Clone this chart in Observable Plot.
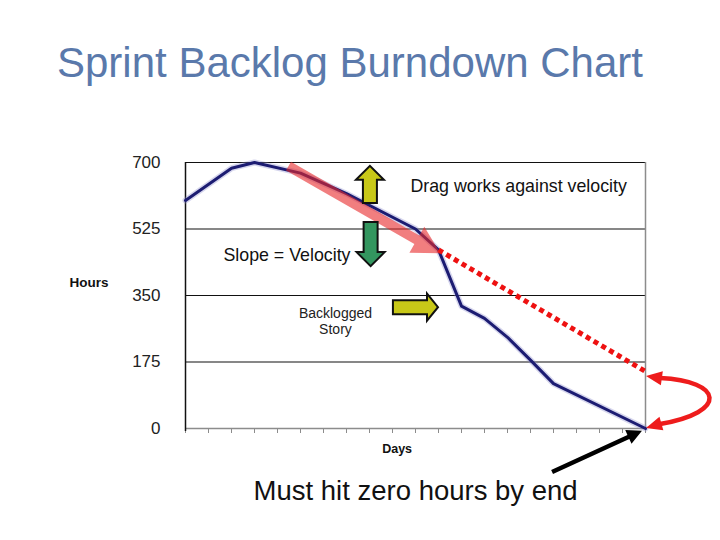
<!DOCTYPE html>
<html><head><meta charset="utf-8">
<script src="https://cdn.jsdelivr.net/npm/d3@7"></script>
<script src="https://cdn.jsdelivr.net/npm/@observablehq/plot@0.6"></script>
<style>
body{margin:0;background:#fff;font-family:"Liberation Sans",Arial,sans-serif;}
#wrap{position:relative;width:720px;height:540px;overflow:hidden;}
#title{position:absolute;left:57px;top:42px;font-size:42px;line-height:42px;color:#5a79ab;white-space:nowrap;}
#chart{position:absolute;left:0;top:0;}
</style></head><body>
<div id="wrap"><div id="chart"></div><div id="title">Sprint Backlog Burndown Chart</div></div>
<script>
// ---- data ----
const days  = [0, 2, 3, 5, 7, 10, 11, 12, 13, 14, 15, 16, 20];
const hours = [600, 685, 700, 672, 618, 525, 470, 322, 290, 240, 180, 118, 0];
const projDays  = [11, 20];
const projHours = [470, 150];
const yTicks = [0, 175, 350, 525, 700];
const xTicks = [0,1,2,3,4,5,6,7,8,9,10,11,12,13,14,15,16,17,18,19,20];

const burn = days.map((d, i) => ({day: d, hours: hours[i]}));
const proj = projDays.map((d, i) => ({day: d, hours: projHours[i]}));

// ---- helper: block arrow polygon drawn through the plot scales ----
function arrowPath(x1, y1, x2, y2, sw, hw, hl) {
  const dx = x2 - x1, dy = y2 - y1, L = Math.hypot(dx, dy);
  const ux = dx / L, uy = dy / L, nx = -uy, ny = ux;
  const neckX = x2 - ux * hl, neckY = y2 - uy * hl;
  const p = [
    [x1 + nx * sw / 2, y1 + ny * sw / 2],
    [neckX + nx * sw / 2, neckY + ny * sw / 2],
    [neckX + nx * hw / 2, neckY + ny * hw / 2],
    [x2, y2],
    [neckX - nx * hw / 2, neckY - ny * hw / 2],
    [neckX - nx * sw / 2, neckY - ny * sw / 2],
    [x1 - nx * sw / 2, y1 - ny * sw / 2]
  ];
  return "M" + p.map(q => q.join(",")).join("L") + "Z";
}
function blockArrows(specs) {
  return (index, scales) => {
    const g = d3.create("svg:g");
    for (const s of specs) {
      g.append("path")
        .attr("d", arrowPath(scales.x(s.x1), scales.y(s.y1), scales.x(s.x2), scales.y(s.y2), s.sw, s.hw, s.hl))
        .attr("fill", s.fill)
        .attr("fill-opacity", s.opacity ?? 1)
        .attr("stroke", s.stroke ?? "none")
        .attr("stroke-width", s.strokeWidth ?? 0)
        .attr("stroke-linejoin", "miter");
    }
    return g.node();
  };
}
function headPath(tx, ty, fx, fy, hw, hl) {
  const dx = tx - fx, dy = ty - fy, L = Math.hypot(dx, dy);
  const ux = dx / L, uy = dy / L, nx = -uy, ny = ux;
  const bx = tx - ux * hl, by = ty - uy * hl;
  return `M${tx},${ty}L${bx + nx * hw / 2},${by + ny * hw / 2}L${bx - nx * hw / 2},${by - ny * hw / 2}Z`;
}
// curved double-headed arrow between the projected end and the real end
function curvedArrow(day, fromHours, toHours) {
  return (index, scales) => {
    const sx = scales.x(day) + 1, sy = scales.y(fromHours) + 5;
    const ex = scales.x(day) + 1, ey = scales.y(toHours);
    const g = d3.create("svg:g");
    const p0 = [sx + 14, sy + 2], p3 = [ex + 14, ey - 4];
    g.append("path")
      .attr("d", `M${p0}C${sx + 77},${sy + 5} ${ex + 83},${ey - 16} ${p3}`)
      .attr("fill", "none").attr("stroke", "#ee1c1c").attr("stroke-width", 4.5);
    g.append("path").attr("d", headPath(sx, sy, p0[0], p0[1], 14, 16)).attr("fill", "#ee1c1c");
    g.append("path").attr("d", headPath(ex, ey, p3[0], p3[1], 14, 16)).attr("fill", "#ee1c1c");
    return g.node();
  };
}

const font = `"Liberation Sans", Arial, sans-serif`;

const chart = Plot.plot({
  width: 720, height: 540,
  marginLeft: 185, marginRight: 75, marginTop: 162, marginBottom: 112,
  x: {domain: [0, 20], axis: null},
  y: {domain: [0, 700], axis: null},
  style: {fontFamily: font, background: "transparent", overflow: "visible", color: "#222"},
  marks: [
    Plot.ruleY(yTicks.filter(d => d > 0), {stroke: "#111", strokeWidth: 1.2}),
    Plot.ruleX([20], {stroke: "#8c8c8c", strokeWidth: 1.5}),
    Plot.axisX({ticks: xTicks, tickSize: 5, tickFormat: () => "", stroke: "#8c8c8c", label: null}),
    Plot.ruleY([0], {stroke: "#8c8c8c", strokeWidth: 1.5}),
    Plot.ruleX([0], {y1: -8, y2: 700, stroke: "#111", strokeWidth: 1.5}),
    Plot.axisY({ticks: yTicks, tickSize: 0, tickPadding: 25, fontSize: 17, fill: "#222", label: null}),
    // burndown line with a soft halo
    Plot.line(burn, {x: "day", y: "hours", stroke: "#8a8acc", strokeWidth: 6, strokeOpacity: 0.35}),
    Plot.line(burn, {x: "day", y: "hours", stroke: "#1c1c72", strokeWidth: 3}),
    // projected (dragged) line
    Plot.line(proj, {x: "day", y: "hours", stroke: "#ee1111", strokeWidth: 5, strokeDasharray: "5,4", strokeLinecap: "butt"}),
    // annotations
    blockArrows([
      {x1: 4.5, y1: 689, x2: 11.1, y2: 460, sw: 10, hw: 30, hl: 27, fill: "#e8282a", opacity: 0.6},
      {x1: 8.04, y1: 592, x2: 8.04, y2: 690, sw: 14, hw: 28, hl: 14, fill: "#c8c818", stroke: "#111", strokeWidth: 2},
      {x1: 8.07, y1: 542, x2: 8.07, y2: 426, sw: 14, hw: 28, hl: 14, fill: "#33965f", stroke: "#111", strokeWidth: 2},
      {x1: 9.04, y1: 318, x2: 11.0, y2: 318, sw: 14, hw: 27, hl: 11, fill: "#c8c818", stroke: "#111", strokeWidth: 2},
      {x1: 15.96, y1: -116, x2: 19.87, y2: -7, sw: 4.5, hw: 15, hl: 15, fill: "#000"}
    ]),
    curvedArrow(20, 150, 0),
    Plot.text(["Drag works against velocity"], {x: 9.78, y: 638, textAnchor: "start", fontSize: 17.8, fill: "#111"}),
    Plot.text(["Slope = Velocity"], {x: 1.65, y: 455, textAnchor: "start", fontSize: 17.8, fill: "#111"}),
    Plot.text(["Backlogged\nStory"], {x: 6.52, y: 284, fontSize: 14, lineHeight: 1.15, fill: "#222"}),
    Plot.text(["Days"], {x: 9.2, y: -55, fontSize: 12.5, fontWeight: "bold", fill: "#111"}),
    Plot.text(["Hours"], {x: -4.2, y: 384, fontSize: 13.5, fontWeight: "bold", fill: "#111"}),
    Plot.text(["Must hit zero hours by end"], {x: 2.96, y: -166, textAnchor: "start", fontSize: 27.5, letterSpacing: 0.6, fill: "#111"})
  ]
});
document.getElementById("chart").appendChild(chart);
</script>
</body></html>
